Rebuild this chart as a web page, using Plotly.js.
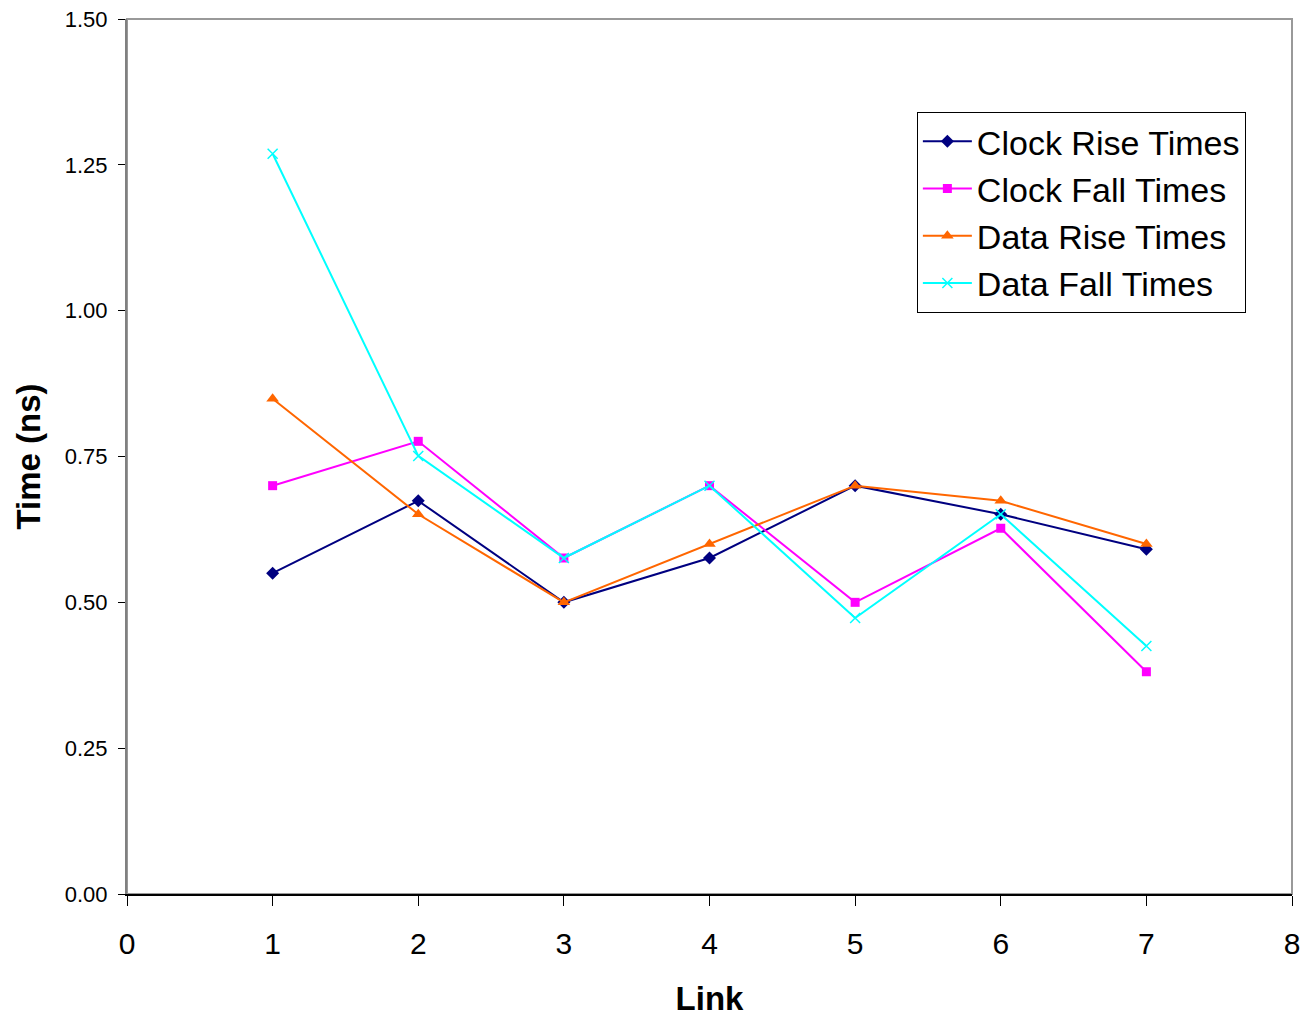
<!DOCTYPE html>
<html>
<head>
<meta charset="utf-8">
<script src="https://cdn.plot.ly/plotly-3.0.1.min.js"></script>
<style>html,body{margin:0;padding:0;background:#fff;}#chart{width:1306px;height:1019px;}</style>
</head>
<body>
<div id="chart"></div>
<script>
const links = [1, 2, 3, 4, 5, 6, 7];
const clockRise = [0.550, 0.674, 0.500, 0.576, 0.700, 0.651, 0.591];
const clockFall = [0.700, 0.776, 0.576, 0.700, 0.500, 0.627, 0.381];
const dataRise  = [0.849, 0.651, 0.500, 0.600, 0.700, 0.674, 0.600];
const dataFall  = [1.269, 0.751, 0.576, 0.700, 0.473, 0.651, 0.425];
const yTicks = [0, 0.25, 0.5, 0.75, 1.0, 1.25, 1.5];
const yTickText = ["0.00", "0.25", "0.50", "0.75", "1.00", "1.25", "1.50"];
const xTicks = [0, 1, 2, 3, 4, 5, 6, 7, 8];

const traces = [
  {x: links, y: clockRise, name: "Clock Rise Times", mode: "lines+markers",
   line: {color: "#000080", width: 2}, marker: {symbol: "diamond", size: 10, color: "#000080"}},
  {x: links, y: clockFall, name: "Clock Fall Times", mode: "lines+markers",
   line: {color: "#FF00FF", width: 2}, marker: {symbol: "square", size: 9, color: "#FF00FF"}},
  {x: links, y: dataRise, name: "Data Rise Times", mode: "lines+markers",
   line: {color: "#FF6600", width: 2}, marker: {symbol: "triangle-up", size: 11, color: "#FF6600"}},
  {x: links, y: dataFall, name: "Data Fall Times", mode: "lines+markers",
   line: {color: "#00FFFF", width: 2}, marker: {symbol: "x-thin", size: 10, color: "#00FFFF", line: {color: "#00FFFF", width: 1.5}}}
];

const layout = {
  width: 1306, height: 1019,
  margin: {l: 127, r: 14, t: 19, b: 125},
  paper_bgcolor: "#fff", plot_bgcolor: "#fff",
  font: {family: "Liberation Sans, Arial, sans-serif", color: "#000"},
  showlegend: true,
  legend: {x: 0.678, y: 0.894, xanchor: "left", yanchor: "top",
    bgcolor: "#fff", bordercolor: "#000", borderwidth: 1,
    font: {size: 34, color: "#000"}, tracegroupgap: 0, itemwidth: 49},
  xaxis: {range: [0, 8], tickvals: xTicks, ticktext: xTicks.map(String),
    showgrid: false, zeroline: false, showline: true, linecolor: "#000", linewidth: 1.5,
    ticks: "outside", ticklen: 10, tickcolor: "#000", tickwidth: 1,
    tickfont: {size: 30}, ticklabelstandoff: 12,
    title: {text: "<b>Link</b>", font: {size: 33}, standoff: 28}},
  yaxis: {range: [0, 1.5], tickvals: yTicks, ticktext: yTickText,
    showgrid: false, zeroline: false, showline: true, linecolor: "#808080", linewidth: 2,
    ticks: "outside", ticklen: 7, tickcolor: "#000", tickwidth: 1,
    tickfont: {size: 22}, ticklabelstandoff: 6,
    title: {text: "<b>Time (ns)</b>", font: {size: 33}, standoff: 14}},
  shapes: [
    {type: "rect", xref: "paper", yref: "paper", x0: 0, x1: 1, y0: 0, y1: 1,
     line: {color: "#999", width: 2}, layer: "below"}
  ]
};

Plotly.newPlot("chart", traces, layout, {displayModeBar: false, staticPlot: true});
</script>
</body>
</html>
